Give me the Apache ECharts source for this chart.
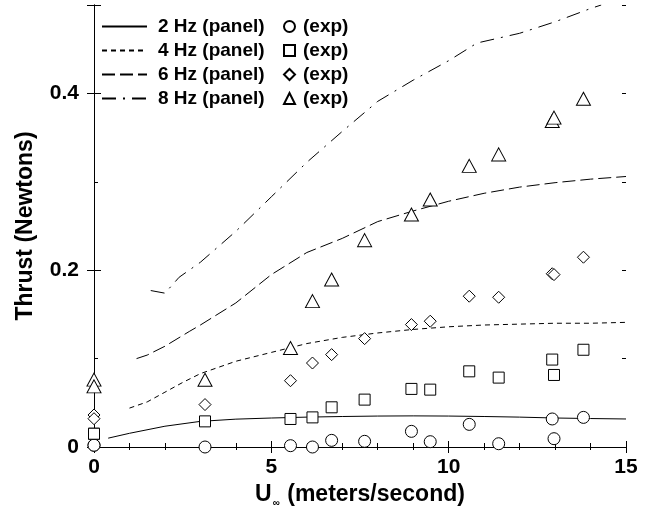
<!DOCTYPE html>
<html>
<head>
<meta charset="utf-8">
<script src="https://cdn.jsdelivr.net/npm/echarts@6/dist/echarts.min.js"></script>
<style>
  html, body { margin: 0; padding: 0; background: #fff; }
  #chart { width: 657px; height: 515px; }
</style>
</head>
<body>
<div id="chart"></div>
<script>
// Flow speeds (m/s) at which thrust was measured
const expSpeed = [0, 0, 3.13, 5.54, 6.16, 6.7, 7.63, 8.95, 9.48, 10.58, 11.41, 12.92, 12.97, 13.8];
// Measured thrust (N) at each speed, by flapping frequency
const exp2Hz = [0.002, 0.002, 0.000, 0.0015, 0.000, 0.0075, 0.0064, 0.0177, 0.006, 0.0256, 0.0037, 0.0317, 0.0094, 0.0335];
const exp4Hz = [0.015, 0.015, 0.029, 0.0317, 0.0335, 0.0449, 0.0536, 0.0657, 0.0649, 0.0856, 0.0785, 0.0989, 0.0815, 0.110];
const exp6Hz = [0.0362, 0.032, 0.048, 0.075, 0.095, 0.1045, 0.1226, 0.1385, 0.1423, 0.1706, 0.1694, 0.196, 0.195, 0.2147];
const exp8Hz = [0.0762, 0.0686, 0.076, 0.112, 0.165, 0.1895, 0.234, 0.263, 0.280, 0.318, 0.331, 0.3687, 0.3726, 0.394];

// Panel-method predictions
const panel2Speed = [0.4, 1, 2, 3, 4, 5, 6, 7, 8, 9, 10, 11, 12, 13, 14, 15];
const panel2Thrust = [0.0100, 0.0155, 0.0235, 0.0290, 0.0315, 0.0328, 0.0338, 0.0345, 0.0350, 0.0352, 0.0350, 0.0345, 0.0338, 0.0328, 0.0322, 0.0317];
const panel4Speed = [1, 1.5, 2, 2.5, 3, 4, 5, 6, 7, 8, 9, 10, 11, 12, 13, 14, 15];
const panel4Thrust = [0.044, 0.051, 0.062, 0.073, 0.083, 0.097, 0.107, 0.117, 0.124, 0.129, 0.133, 0.136, 0.138, 0.139, 0.140, 0.140, 0.141];
const panel6Speed = [1.2, 1.5, 2, 2.7, 3, 4, 5, 6, 7, 8, 9, 10, 11, 12, 13, 14, 15];
const panel6Thrust = [0.100, 0.104, 0.114, 0.131, 0.138, 0.163, 0.195, 0.220, 0.236, 0.255, 0.267, 0.278, 0.287, 0.294, 0.299, 0.303, 0.306];
const panel8Speed = [1.6, 2.0, 2.4, 3, 4, 5, 6, 7, 8, 9, 10, 10.8, 12, 13, 14, 14.3];
const panel8Thrust = [0.177, 0.174, 0.192, 0.209, 0.244, 0.283, 0.322, 0.357, 0.391, 0.415, 0.437, 0.457, 0.468, 0.481, 0.496, 0.500];

// Labelled ticks
const xTickLabels = [0, 5, 10, 15];
const yTickLabels = [0, 0.2, 0.4];

const FONT = '"Liberation Sans", Arial, Helvetica, sans-serif';
const INK = '#000';

function pairs(xs, ys) { return xs.map((x, i) => [x, ys[i]]); }

function lineSeries(name, xs, ys, dash) {
  return {
    name, type: 'line', data: pairs(xs, ys), symbol: 'none', smooth: false,
    lineStyle: { color: INK, width: 1, type: dash },
    itemStyle: { color: INK }, z: 2, silent: true, animation: false
  };
}
function expSeries(name, ys, symbol, size) {
  return {
    name, type: 'scatter', data: pairs(expSpeed, ys), symbol, symbolSize: size,
    itemStyle: { color: '#fff', borderColor: INK, borderWidth: 1, opacity: 1 },
    z: 3, silent: true, animation: false
  };
}

const axisLine = { show: true, lineStyle: { color: INK, width: 1 } };
const hiddenLabel = { show: false };

const chart = echarts.init(document.getElementById('chart'), null, { renderer: 'canvas' });
chart.setOption({
  backgroundColor: '#fff',
  animation: false,
  grid: { left: 94, right: 31, top: 5, bottom: 68, containLabel: false },
  legend: [
    {
      data: ['2 Hz (panel)', '4 Hz (panel)', '6 Hz (panel)', '8 Hz (panel)'],
      orient: 'vertical', left: 101, top: 17, padding: 0,
      itemWidth: 45, itemHeight: 11, itemGap: 5,
      itemStyle: { opacity: 0 },
      textStyle: { fontFamily: FONT, fontWeight: 'bold', fontSize: 19, color: INK, lineHeight: 18, padding: [0, 0, 0, 6] },
      selectedMode: false
    },
    {
      data: ['2 Hz (exp)', '4 Hz (exp)', '6 Hz (exp)', '8 Hz (exp)'],
      orient: 'vertical', left: 283, top: 17, padding: 0,
      itemWidth: 11, itemHeight: 11, itemGap: 5,
      formatter: () => '(exp)',
      textStyle: { fontFamily: FONT, fontWeight: 'bold', fontSize: 19, color: INK, lineHeight: 18, padding: [0, 0, 0, 3] },
      selectedMode: false
    }
  ],
  xAxis: [
    {
      type: 'value', min: 0, max: 15, interval: 5, position: 'bottom',
      name: 'U{sub|∞} (meters/second)', nameLocation: 'middle', nameGap: 33,
      nameTextStyle: {
        fontFamily: FONT, fontWeight: 'bold', fontSize: 23, color: INK,
        rich: { sub: { fontFamily: FONT, fontWeight: 'bold', fontSize: 10, color: INK, padding: [17, 1, 0, 1], verticalAlign: 'bottom' } }
      },
      axisLine,
      axisTick: { show: true, inside: true, length: 6, lineStyle: { color: INK } },
      minorTick: { show: true, splitNumber: 5, length: 4, lineStyle: { color: INK } },
      axisLabel: {
        fontFamily: FONT, fontWeight: 'bold', fontSize: 21, color: INK, margin: 10,
        formatter: v => (xTickLabels.indexOf(v) >= 0 ? String(v) : '')
      },
      splitLine: { show: false }
    },
    {
      type: 'value', min: 0, max: 15, interval: 5, position: 'top',
      axisLine,
      axisTick: { show: true, inside: true, length: 6, lineStyle: { color: INK } },
      minorTick: { show: true, splitNumber: 5, length: 3, lineStyle: { color: INK } },
      axisLabel: hiddenLabel, splitLine: { show: false }
    }
  ],
  yAxis: [
    {
      type: 'value', min: 0, max: 0.5, interval: 0.2, position: 'left',
      name: 'Thrust (Newtons)', nameLocation: 'middle', nameGap: 57,
      nameTextStyle: { fontFamily: FONT, fontWeight: 'bold', fontSize: 23, color: INK },
      axisLine,
      axisTick: { show: true, inside: true, length: 7, lineStyle: { color: INK } },
      axisLabel: {
        fontFamily: FONT, fontWeight: 'bold', fontSize: 21, color: INK, margin: 15,
        formatter: v => (yTickLabels.some(t => Math.abs(t - v) < 1e-9) ? String(+v.toFixed(1)) : '')
      },
      splitLine: { show: false }
    },
    {
      type: 'value', min: 0, max: 0.5, interval: 0.2, position: 'right',
      axisLine,
      axisTick: { show: true, inside: true, length: 7, lineStyle: { color: INK } },
      axisLabel: hiddenLabel, splitLine: { show: false }
    },
    {
      type: 'value', min: 0, max: 0.5, interval: 0.1, position: 'left',
      axisLine: { show: false },
      axisTick: { show: true, inside: true, length: 4, lineStyle: { color: INK } },
      axisLabel: hiddenLabel, splitLine: { show: false }
    },
    {
      type: 'value', min: 0, max: 0.5, interval: 0.1, position: 'right',
      axisLine: { show: false },
      axisTick: { show: true, inside: true, length: 4, lineStyle: { color: INK } },
      axisLabel: hiddenLabel, splitLine: { show: false }
    }
  ],
  series: [
    lineSeries('2 Hz (panel)', panel2Speed, panel2Thrust, 'solid'),
    lineSeries('4 Hz (panel)', panel4Speed, panel4Thrust, [5, 4]),
    lineSeries('6 Hz (panel)', panel6Speed, panel6Thrust, [13, 5]),
    lineSeries('8 Hz (panel)', panel8Speed, panel8Thrust, [14, 7, 2, 7]),
    expSeries('2 Hz (exp)', exp2Hz, 'circle', 12),
    expSeries('4 Hz (exp)', exp4Hz, 'rect', 11),
    expSeries('6 Hz (exp)', exp6Hz, 'diamond', 12),
    expSeries('8 Hz (exp)', exp8Hz, 'triangle', [14, 13])
  ]
});
</script>
</body>
</html>
